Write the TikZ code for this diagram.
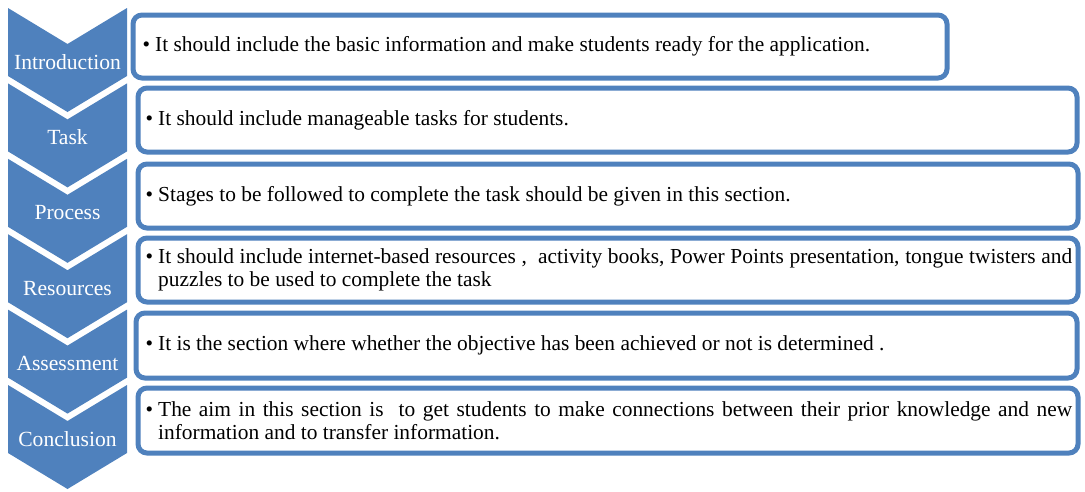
\documentclass[tikz,border=0pt]{standalone}
\usepackage{fontspec}
\setmainfont{Liberation Serif}
\definecolor{sablue}{HTML}{4F81BD}
\tikzset{
  chev/.style={fill=sablue},
  lab/.style={text=white,font=\fontsize{21.6}{24}\selectfont,inner sep=0pt},
  box/.style={draw=sablue,line width=5pt,rounded corners=9pt,fill=white,anchor=north west,inner sep=0pt},
  txt/.style={anchor=west,inner sep=0pt,font=\fontsize{21.4}{22.5}\selectfont}
}
\newcommand{\itm}[1]{\textbullet\hspace{5pt}\parbox[t]{914pt}{#1}}
\begin{document}
\begin{tikzpicture}[x=1pt,y=-1pt]
\useasboundingbox (0,0) rectangle (1085,491);
\foreach \i/\lab in {0/Introduction,1/Task,2/Process,3/Resources,4/Assessment,5/Conclusion}{
  \pgfmathsetmacro\t{8+75.4*\i}
  \fill[chev] (8,\t)--(67.5,\t+36)--(127,\t)--(127,\t+68)--(67.5,\t+104)--(8,\t+68)--cycle;
  \node[lab] (l\i) at (67.5,\t+54) {\lab};
}
\node[box,minimum width=814pt,minimum height=63pt] (intro) at (130.5,12.5) {};
\node[box,minimum width=939pt,minimum height=64pt] (task) at (135.5,85.5) {};
\node[box,minimum width=940pt,minimum height=64pt] (proc) at (135.5,161.5) {};
\node[box,minimum width=940pt,minimum height=64pt] (res) at (135.5,235.5) {};
\node[box,minimum width=941pt,minimum height=65pt] (ass) at (133.5,310.5) {};
\node[box,minimum width=940pt,minimum height=65pt] (conc) at (135.5,385.5) {};
\node[txt] (t0) at ([xshift=12pt]intro.west) {\itm{It should include the basic information and make students ready for the application.}};
\node[txt] (t1) at ([xshift=10pt]task.west) {\itm{It should include manageable tasks for students.}};
\node[txt] (t2) at ([xshift=10pt]proc.west) {\itm{Stages to be followed to complete the task should be given in this section.}};
\node[txt] (t3) at ([xshift=10pt]res.west) {\itm{It should include internet-based resources ,\ \ activity books, Power Points presentation, tongue twisters and\linebreak puzzles to be used to complete the task}};
\node[txt] (t4) at ([xshift=12pt]ass.west) {\itm{It is the section where whether the objective has been achieved or not is determined .}};
\node[txt] (t5) at ([xshift=10pt]conc.west) {\itm{The aim in this section is\ \ to get students to make connections between their prior knowledge and new\linebreak information and to transfer information.}};
\end{tikzpicture}
\end{document}
